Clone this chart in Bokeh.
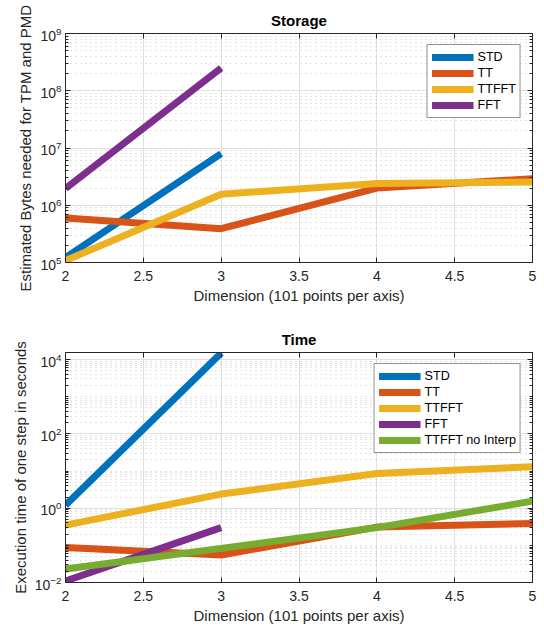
from bokeh.plotting import figure
from bokeh.layouts import column
from bokeh.models import (Range1d, FixedTicker, LogAxis, LinearAxis, Legend, LegendItem)
from bokeh.embed import file_html
from bokeh.resources import INLINE

# ---- data ----
dims2 = [2, 3]
dims4 = [2, 3, 4, 5]

storage_std = [1.22e5, 8.0e6]
storage_tt = [6.0e5, 3.9e5, 2.0e6, 2.9e6]
storage_ttfft = [1.08e5, 1.56e6, 2.4e6, 2.55e6]
storage_fft = [1.96e6, 2.5e8]

time_std = [1.2, 1.5e4]
time_tt = [0.088, 0.055, 0.31, 0.39]
time_ttfft = [0.35, 2.4, 8.6, 13.0]
time_fft = [0.011, 0.30]
time_ttfft_noint = [0.023, 0.083, 0.30, 1.55]

x_ticks = [2, 2.5, 3, 3.5, 4, 4.5, 5]
x_tick_labels = {2: "2", 2.5: "2.5", 3: "3", 3.5: "3.5", 4: "4", 4.5: "4.5", 5: "5"}
storage_y_major = [1e5, 1e6, 1e7, 1e8, 1e9]
time_y_major = [1e-2, 1e0, 1e2, 1e4]

C_STD = "#0072BD"
C_TT = "#D95319"
C_TTFFT = "#EDB120"
C_FFT = "#7E2F8E"
C_NOINT = "#77AC30"

FONT = "Liberation Sans"
INK = "#262626"
LW = 7


def log_minor(e0, e1):
    return [m * 10.0 ** e for e in range(e0, e1) for m in range(1, 10)]


def make_fig(title, ylabel, y0, y1, majors, minors, height, top_border, bottom_border):
    p = figure(width=536, height=height, y_axis_type="log",
               x_range=Range1d(2, 5), y_range=Range1d(y0, y1),
               output_backend="svg", toolbar_location=None,
               min_border_left=65, min_border_right=4,
               min_border_top=top_border, min_border_bottom=bottom_border)
    p.title.text = title
    p.title.align = "center"
    p.title.text_font = FONT
    p.title.text_font_size = "15px"
    p.title.text_font_style = "bold"
    p.title.text_color = "black"
    p.title.offset = 0

    p.outline_line_color = INK
    p.outline_line_width = 1

    yt = FixedTicker(ticks=majors, minor_ticks=minors)
    p.xaxis.ticker = FixedTicker(ticks=x_ticks)
    p.xaxis.major_label_overrides = x_tick_labels
    p.yaxis.ticker = yt
    p.xaxis.axis_label = "Dimension (101 points per axis)"
    p.yaxis.axis_label = ylabel
    for ax in (p.xaxis[0], p.yaxis[0]):
        ax.axis_line_color = INK
        ax.major_tick_line_color = INK
        ax.minor_tick_line_color = INK
        ax.major_tick_in = 5
        ax.major_tick_out = 0
        ax.minor_tick_in = 3
        ax.minor_tick_out = 0
        ax.major_label_text_font = FONT
        ax.major_label_text_font_size = "14px"
        ax.major_label_text_color = INK
        ax.axis_label_text_font = FONT
        ax.axis_label_text_font_size = "15px"
        ax.axis_label_text_font_style = "normal"
        ax.axis_label_text_color = INK
    p.xaxis.minor_tick_line_color = None
    p.xaxis.major_label_standoff = 8
    p.xaxis.axis_label_standoff = 3
    p.yaxis.major_label_standoff = 4
    p.yaxis.axis_label_standoff = 3

    # box axes (right / top) with inward ticks, no visible labels
    ra = LogAxis(ticker=yt)
    ta = LinearAxis(ticker=FixedTicker(ticks=x_ticks))
    for ax in (ra, ta):
        ax.axis_line_color = INK
        ax.major_tick_line_color = INK
        ax.minor_tick_line_color = INK
        ax.major_tick_in = 5
        ax.major_tick_out = 0
        ax.minor_tick_in = 3
        ax.minor_tick_out = 0
        ax.major_label_text_font_size = "1px"
        ax.major_label_text_alpha = 0
        ax.major_label_standoff = 0
    ta.minor_tick_line_color = None
    p.add_layout(ra, "right")
    p.add_layout(ta, "above")

    p.xgrid.grid_line_color = "#E0E0E0"
    p.ygrid.grid_line_color = "#E0E0E0"
    p.ygrid.minor_grid_line_color = "#C4C4C4"
    p.ygrid.minor_grid_line_dash = "1 4"
    p.ygrid.minor_grid_line_width = 1
    return p


def style_legend(p, items):
    leg = Legend(items=items, location="top_right")
    leg.margin = 11
    leg.padding = 4
    leg.spacing = 0
    leg.glyph_width = 42
    leg.glyph_height = 16
    leg.label_height = 16
    leg.label_standoff = 4
    leg.label_text_font = FONT
    leg.label_text_font_size = "12.6px"
    leg.label_text_color = "black"
    leg.border_line_color = INK
    leg.border_line_width = 1
    leg.background_fill_color = "white"
    p.add_layout(leg, "center")


# ---- Storage ----
p1 = make_fig("Storage", "Estimated Bytes needed for TPM and PMD", 1e5, 1e9,
              storage_y_major, log_minor(5, 9), 312, 33, 50)
r_std = p1.line(dims2, storage_std, line_color=C_STD, line_width=LW)
r_tt = p1.line(dims4, storage_tt, line_color=C_TT, line_width=LW)
r_ttfft = p1.line(dims4, storage_ttfft, line_color=C_TTFFT, line_width=LW)
r_fft = p1.line(dims2, storage_fft, line_color=C_FFT, line_width=LW)
style_legend(p1, [LegendItem(label="STD", renderers=[r_std]),
                  LegendItem(label="TT", renderers=[r_tt]),
                  LegendItem(label="TTFFT", renderers=[r_ttfft]),
                  LegendItem(label="FFT", renderers=[r_fft])])

# ---- Time ----
p2 = make_fig("Time", "Execution time of one step in seconds", 1e-2, 1.55e4,
              time_y_major, log_minor(-2, 5), 316, 40, 46)
s_std = p2.line(dims2, time_std, line_color=C_STD, line_width=LW)
s_tt = p2.line(dims4, time_tt, line_color=C_TT, line_width=LW)
s_ttfft = p2.line(dims4, time_ttfft, line_color=C_TTFFT, line_width=LW)
s_fft = p2.line(dims2, time_fft, line_color=C_FFT, line_width=LW)
s_noint = p2.line(dims4, time_ttfft_noint, line_color=C_NOINT, line_width=LW)
style_legend(p2, [LegendItem(label="STD", renderers=[s_std]),
                  LegendItem(label="TT", renderers=[s_tt]),
                  LegendItem(label="TTFFT", renderers=[s_ttfft]),
                  LegendItem(label="FFT", renderers=[s_fft]),
                  LegendItem(label="TTFFT no Interp", renderers=[s_noint])])

layout = column(p1, p2)
open("out.html", "w").write(file_html(layout, INLINE))
